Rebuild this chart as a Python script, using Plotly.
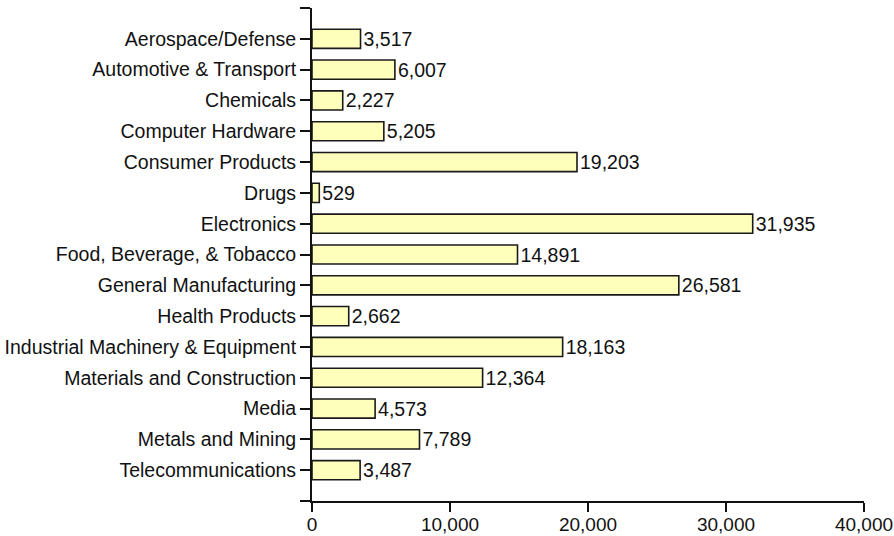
import plotly.graph_objects as go

categories = [
    "Aerospace/Defense", "Automotive & Transport", "Chemicals", "Computer Hardware",
    "Consumer Products", "Drugs", "Electronics", "Food, Beverage, & Tobacco",
    "General Manufacturing", "Health Products", "Industrial Machinery & Equipment",
    "Materials and Construction", "Media", "Metals and Mining", "Telecommunications",
]
values = [3517, 6007, 2227, 5205, 19203, 529, 31935, 14891, 26581, 2662,
          18163, 12364, 4573, 7789, 3487]
x_ticks = [0, 10000, 20000, 30000, 40000]
x_tick_labels = ["0", "10,000", "20,000", "30,000", "40,000"]

positions = list(range(len(categories)))
font_family = "Liberation Sans, Arial, sans-serif"

fig = go.Figure(go.Bar(
    x=values,
    y=positions,
    orientation="h",
    width=0.62,
    marker=dict(color="#FFFFBC", line=dict(color="#1a1a1a", width=1.6)),
    text=[f"{v:,}" for v in values],
    textposition="outside",
    constraintext="none",
    cliponaxis=False,
    textfont=dict(family=font_family, size=19.5, color="#111111"),
    hoverinfo="skip",
))

fig.update_layout(
    width=894, height=536,
    margin=dict(l=312, r=30, t=8, b=35, pad=0, autoexpand=False),
    paper_bgcolor="white", plot_bgcolor="white",
    showlegend=False,
    font=dict(family=font_family, size=19.5, color="#111111"),
)
fig.update_xaxes(
    range=[0, 40000], automargin=False,
    tickvals=x_ticks, ticktext=x_tick_labels,
    showgrid=False, zeroline=False,
    showline=True, linecolor="#111111", linewidth=2,
    ticks="outside", ticklen=9, tickwidth=2, tickcolor="#111111",
    ticklabelstandoff=-4,
    tickfont=dict(family=font_family, size=19, color="#111111"),
)
fig.update_yaxes(
    range=[len(categories), -1], automargin=False,
    tickvals=[-1] + positions + [len(categories)],
    ticktext=[""] + categories + [""],
    showgrid=False, zeroline=False,
    showline=True, linecolor="#111111", linewidth=2,
    ticks="outside", ticklen=10, tickwidth=2, tickcolor="#111111",
    tickfont=dict(family=font_family, size=19.5, color="#111111"),
)

fig.write_html(
    "out.html",
    config={"displayModeBar": False},
    post_script="document.body.style.margin='0';document.body.style.overflow='hidden';",
)
